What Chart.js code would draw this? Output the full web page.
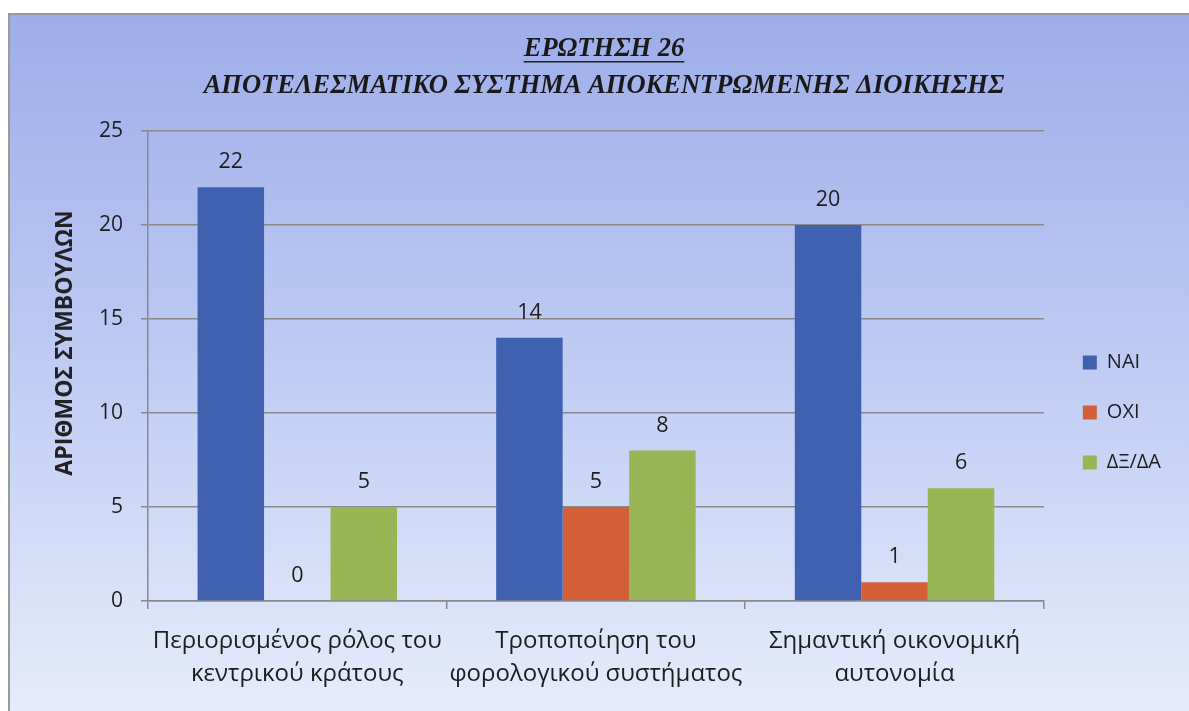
<!DOCTYPE html>
<html><head><meta charset="utf-8">
<script src="https://cdn.jsdelivr.net/npm/chart.js@4/dist/chart.umd.min.js"></script>
<style>html,body{margin:0;padding:0;background:#fff;} canvas{display:block}</style>
</head><body>
<canvas id="c" width="1189" height="711"></canvas>
<script>
const categories = [["Περιορισμένος ρόλος του","κεντρικού κράτους"],["Τροποποίηση του","φορολογικού συστήματος"],["Σημαντική οικονομική","αυτονομία"]];
const seriesNames = ["ΝΑΙ","ΟΧΙ","ΔΞ/ΔΑ"];
const naiValues = [22,14,20];
const oxiValues = [0,5,1];
const dxdaValues = [5,8,6];
const yTicks = [0,5,10,15,20,25];
const titleLines = ["ΕΡΩΤΗΣΗ 26","ΑΠΟΤΕΛΕΣΜΑΤΙΚΟ ΣΥΣΤΗΜΑ ΑΠΟΚΕΝΤΡΩΜΕΝΗΣ ΔΙΟΙΚΗΣΗΣ"];
const yTitle = "ΑΡΙΘΜΟΣ ΣΥΜΒΟΥΛΩΝ";
const seriesColors = ["#4061b0","#d35f37","#98b656"];

const FONT = '"Open Sans", "Noto Sans", sans-serif';
const TITLE_SIZE = 26.5, TITLE_LH = 1.38;
const TITLE_FONT = {family:'"Liberation Serif", serif', size:TITLE_SIZE, style:'italic', weight:'bold', lineHeight:TITLE_LH};

const background = {
  id:'background',
  beforeDraw(chart){
    const ctx = chart.ctx, w = chart.width, h = chart.height;
    ctx.save();
    ctx.fillStyle = '#ffffff';
    ctx.fillRect(0,0,w,h);
    const g = ctx.createLinearGradient(0,14,0,h);
    g.addColorStop(0,'rgb(157,173,233)');
    g.addColorStop(0.5,'rgb(190,204,243)');
    g.addColorStop(1,'rgb(230,236,251)');
    ctx.fillStyle = g;
    ctx.fillRect(10,14,w-10,h-14);
    ctx.strokeStyle = '#9a9a9a';
    ctx.lineWidth = 2;
    ctx.beginPath();
    ctx.moveTo(9,h); ctx.lineTo(9,14); ctx.lineTo(w,14);
    ctx.stroke();
    ctx.restore();
  }
};

const titleUnderline = {
  id:'titleUnderline',
  afterDraw(chart){
    const tb = chart.titleBlock; if(!tb) return;
    const ctx = chart.ctx;
    ctx.save();
    ctx.font = 'italic bold ' + TITLE_SIZE + 'px "Liberation Serif", serif';
    const w = ctx.measureText(titleLines[0]).width;
    const lh = TITLE_SIZE*TITLE_LH;
    const cx = (tb.left + tb.right)/2;
    const y = tb.top + 17 + lh/2 + 12.5;
    ctx.strokeStyle = '#222';
    ctx.lineWidth = 1.5;
    ctx.beginPath();
    ctx.moveTo(cx - w/2, y); ctx.lineTo(cx + w/2, y);
    ctx.stroke();
    ctx.restore();
  }
};

const yAxisTitle = {
  id:'yAxisTitle',
  afterDraw(chart){
    const ctx = chart.ctx;
    ctx.save();
    ctx.translate(65, 343);
    ctx.rotate(-Math.PI/2);
    ctx.font = 'bold 23px ' + FONT;
    ctx.fillStyle = '#222';
    ctx.textAlign = 'center';
    ctx.textBaseline = 'middle';
    ctx.fillText(yTitle, 0, 0);
    ctx.restore();
  }
};

const valueLabels = {
  id:'valueLabels',
  afterDatasetsDraw(chart){
    const ctx = chart.ctx;
    ctx.save();
    ctx.font = '21.5px ' + FONT;
    ctx.fillStyle = '#1e1e1e';
    ctx.textAlign = 'center';
    ctx.textBaseline = 'middle';
    chart.data.datasets.forEach((ds,i)=>{
      chart.getDatasetMeta(i).data.forEach((bar,j)=>{
        ctx.fillText(String(ds.data[j]), bar.x, bar.y - 25);
      });
    });
    ctx.restore();
  }
};

const layoutShift = {
  id:'layoutShift',
  afterLayout(chart){
    const lg = chart.legend;
    if(lg){ lg.left += 9; lg.right += 9; lg.top += 50; lg.bottom += 50; }
    const tb = chart.titleBlock;
    if(tb){ tb.left += 18; tb.right += 18; }
  }
};

new Chart(document.getElementById('c'), {
  type:'bar',
  data:{
    labels: categories,
    datasets:[
      {label:seriesNames[0], data:naiValues, backgroundColor:seriesColors[0]},
      {label:seriesNames[1], data:oxiValues, backgroundColor:seriesColors[1]},
      {label:seriesNames[2], data:dxdaValues, backgroundColor:seriesColors[2]}
    ]
  },
  options:{
    responsive:false,
    animation:false,
    devicePixelRatio:1,
    layout:{padding:{left:10, top:14, right:27, bottom:0}},
    datasets:{bar:{categoryPercentage:0.668, barPercentage:1.0}},
    plugins:{
      title:{display:true, text:titleLines, color:'#1a1a1a', font:TITLE_FONT, padding:{top:17, bottom:26.8}},
      legend:{position:'right', align:'center',
        labels:{font:{family:FONT, size:20}, color:'#1e1e1e', boxWidth:14, boxHeight:14, padding:30}},
      tooltip:{enabled:false}
    },
    scales:{
      x:{
        grid:{display:true, drawOnChartArea:false, drawTicks:true, tickLength:8, color:'#8a8a8a', lineWidth:1.5},
        border:{display:true, color:'#8a8a8a', width:1.5},
        ticks:{font:{family:FONT, size:24, lineHeight:1.36}, color:'#1e1e1e', padding:16, maxRotation:0, autoSkip:false},
        afterFit(s){ s.height = 110; }
      },
      y:{
        min:0, max:25,
        afterBuildTicks(s){ s.ticks = yTicks.map(v=>({value:v})); },
        grid:{color:'#8a8a8a', lineWidth:1.5, tickLength:7, drawTicks:true},
        border:{display:true, color:'#8a8a8a', width:1.5},
        ticks:{font:{family:FONT, size:21}, color:'#1e1e1e', padding:18},
        title:{display:false},
        afterFit(s){ s.width = 138; }
      }
    }
  },
  plugins:[background, titleUnderline, yAxisTitle, valueLabels, layoutShift]
});
</script>
</body></html>
